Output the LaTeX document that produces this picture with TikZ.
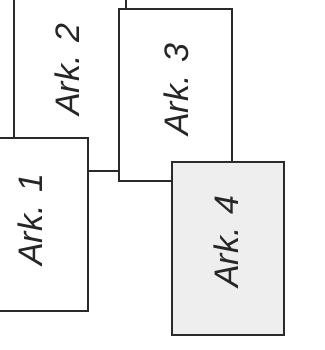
\documentclass[tikz,border=0pt]{standalone}
\usepackage{fontspec}
\setmainfont{Liberation Sans}
\definecolor{sheetgray}{HTML}{EEEEEE}
\definecolor{edge}{HTML}{2A2A2A}
\tikzset{
  sheet/.style={draw=edge, line width=2.2pt, fill=white},
  graysheet/.style={sheet, fill=sheetgray},
  arklabel/.style={rotate=90, inner sep=0pt, font=\fontsize{34}{34}\selectfont\itshape, text=black!85}
}
\begin{document}
\begin{tikzpicture}[x=1pt,y=-1pt]
\useasboundingbox (0,0) rectangle (324,350);
\clip (0,0) rectangle (324,350);
\fill[white] (0,0) rectangle (324,350);
% Ark. 2
\draw[sheet] (14,-5) rectangle (126,171);
\node[arklabel] (a2) at (67,70) {Ark. 2};
% Ark. 1
\draw[sheet] (-5,138) rectangle (88,311);
\node[arklabel] (a1) at (30,220) {Ark. 1};
% Ark. 3
\draw[sheet] (119,9) rectangle (232,181);
\node[arklabel] (a3) at (176,90) {Ark. 3};
% Ark. 4
\draw[graysheet] (172,162) rectangle (284,335);
\node[arklabel] (a4) at (226,242) {Ark. 4};
\end{tikzpicture}
\end{document}
